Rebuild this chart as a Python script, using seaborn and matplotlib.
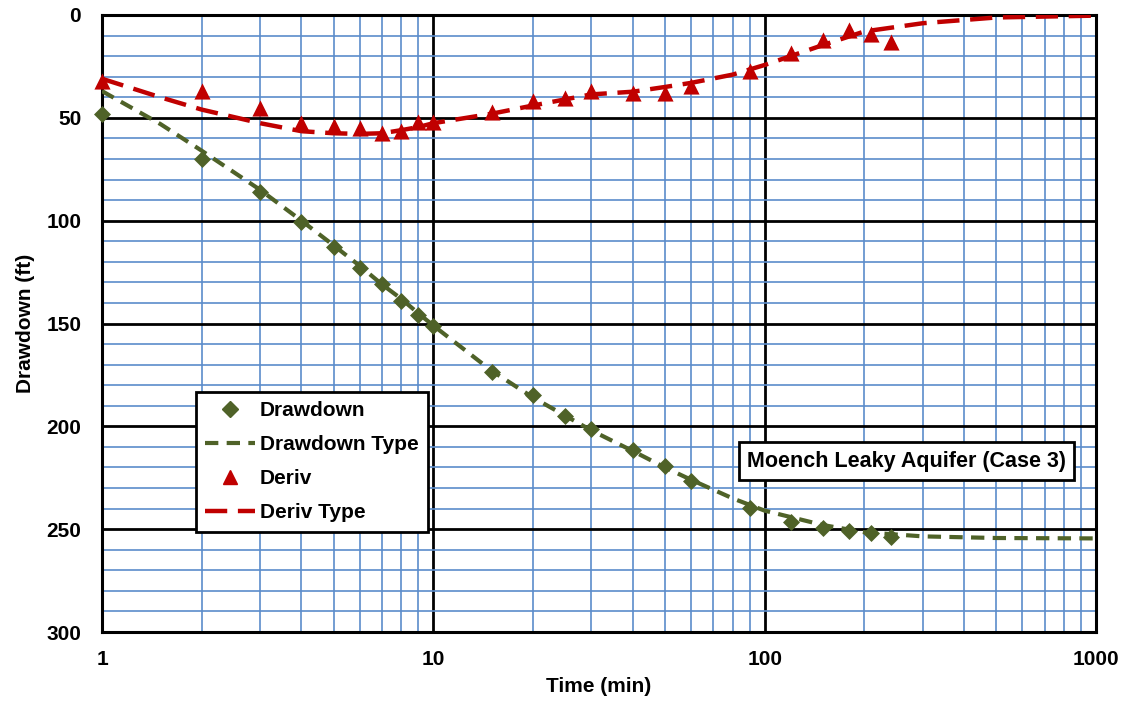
import numpy as np
import pandas as pd
import matplotlib
matplotlib.use("Agg")
import matplotlib.pyplot as plt
import seaborn as sns
from matplotlib.lines import Line2D
from matplotlib.ticker import FixedLocator, NullFormatter

# ---- data ----
time_obs = [1, 2, 3, 4, 5, 6, 7, 8, 9, 10, 15, 20, 25, 30, 40, 50, 60, 90, 120, 150, 180, 210, 240]
drawdown = [48, 70, 86, 100.5, 113, 123, 131, 139, 146, 151, 173.5, 185, 195, 201.5, 211.5, 219.5, 226.5, 239.5, 246.5, 249.3, 250.8, 251.8, 253.7]
deriv = [32, 37, 45, 52.5, 54, 55, 57.5, 56.5, 52, 52, 47, 42, 40.5, 37, 38, 38, 34.5, 27, 18.7, 12, 7.3, 9, 13]

time_type = [1, 1.5, 2, 3, 4, 5, 6, 7, 8, 9, 10, 15, 20, 30, 40, 50, 60, 80, 100, 150, 200, 300, 500, 1000]
drawdown_type = [37, 53, 66, 85, 100, 112, 122, 131, 138, 145, 151, 173, 186, 202, 212, 220, 226, 235, 241, 248, 251.5, 253.5, 254.3, 254.5]
deriv_type = [31, 40, 46, 52.6, 56.5, 57.5, 57.8, 57.5, 56, 54.5, 52.6, 48, 44, 38.6, 37.3, 35, 33, 29, 24.3, 14.6, 8, 4, 1.2, 0.3]

x_ticks = [1, 10, 100, 1000]
y_ticks = [0, 50, 100, 150, 200, 250, 300]

obs = pd.DataFrame({"t": time_obs, "dd": drawdown, "der": deriv})
typ = pd.DataFrame({"t": time_type, "dd": drawdown_type, "der": deriv_type})

sns.set_style("white")
plt.rcParams["font.family"] = ["Liberation Sans", "DejaVu Sans"]
plt.rcParams["font.weight"] = "bold"
plt.rcParams["text.color"] = "black"
plt.rcParams["axes.labelcolor"] = "black"
plt.rcParams["xtick.color"] = "black"
plt.rcParams["ytick.color"] = "black"

green = "#4F6228"
red = "#C00000"
blue = "#5B8CCB"
FS = 15

fig = plt.figure(figsize=(11.23, 7.01), dpi=100)
ax = fig.add_axes([102/1123, 1-632/701, (1096-102)/1123, (632-15)/701])

ax.set_xscale("log")
ax.set_xlim(1, 1000)
ax.set_ylim(300, 0)

# grid
minor_x = [m * 10**d for d in range(0, 3) for m in range(2, 10)]
ax.xaxis.set_major_locator(FixedLocator(x_ticks))
ax.xaxis.set_minor_locator(FixedLocator(minor_x))
ax.xaxis.set_minor_formatter(NullFormatter())
ax.yaxis.set_major_locator(FixedLocator(y_ticks))
ax.yaxis.set_minor_locator(FixedLocator(list(range(0, 301, 10))))
ax.grid(which="minor", color=blue, lw=1.2, zorder=0)
ax.grid(which="major", color="black", lw=2.0, zorder=1)
ax.set_axisbelow(True)

green_ls = (0, (3.2, 2.0))
red_ls = (0, (5.0, 2.4))

sns.lineplot(data=typ, x="t", y="dd", ax=ax, color=green, lw=3.0,
             linestyle=green_ls, zorder=3, legend=False)
sns.lineplot(data=typ, x="t", y="der", ax=ax, color=red, lw=3.2,
             linestyle=red_ls, zorder=3, legend=False)
sns.scatterplot(data=obs, x="t", y="dd", ax=ax, color=green, marker="D",
                s=75, edgecolor=green, linewidth=0, zorder=4, legend=False, clip_on=False)
sns.scatterplot(data=obs, x="t", y="der", ax=ax, color=red, marker="^",
                s=135, edgecolor=red, linewidth=0, zorder=4, legend=False, clip_on=False)

ax.set_xticklabels([str(v) for v in x_ticks])
ax.tick_params(axis="both", which="both", length=0, labelsize=FS, labelcolor="black")
ax.tick_params(axis="x", pad=13)
ax.tick_params(axis="y", pad=15)
for lab in ax.get_xticklabels() + ax.get_yticklabels():
    lab.set_fontweight("bold")

ax.set_xlabel("Time (min)", fontsize=FS, fontweight="bold", labelpad=6, color="black")
ax.set_ylabel("Drawdown (ft)", fontsize=FS, fontweight="bold", labelpad=8, color="black")

for sp in ax.spines.values():
    sp.set_visible(True)
    sp.set_color("black")
    sp.set_linewidth(2.2)

handles = [
    Line2D([], [], color=green, marker="D", linestyle="none", markersize=8),
    Line2D([], [], color=green, lw=3.0, linestyle=green_ls),
    Line2D([], [], color=red, marker="^", linestyle="none", markersize=10),
    Line2D([], [], color=red, lw=3.2, linestyle=red_ls),
]
labels = ["Drawdown", "Drawdown Type", "Deriv", "Deriv Type"]
leg = ax.legend(handles, labels, loc="upper left",
                bbox_to_anchor=((196-102)/994, 1-(392-15)/617),
                frameon=True, fancybox=False, edgecolor="black", framealpha=1,
                prop={"size": FS, "weight": "bold"}, handlelength=2.4,
                labelspacing=0.72, borderpad=0.45, handletextpad=0.2, borderaxespad=0)
leg.get_frame().set_linewidth(2.0)
for t in leg.get_texts():
    t.set_color("black")

ax.text(1-(1096-1066)/994, 1-(461-15)/617, "Moench Leaky Aquifer (Case 3)", transform=ax.transAxes,
        ha="right", va="center", fontsize=15.5, fontweight="bold", color="black",
        bbox=dict(boxstyle="square,pad=0.38", facecolor="white", edgecolor="black", lw=2.0),
        zorder=5)

fig.savefig("out.png", dpi=100)
